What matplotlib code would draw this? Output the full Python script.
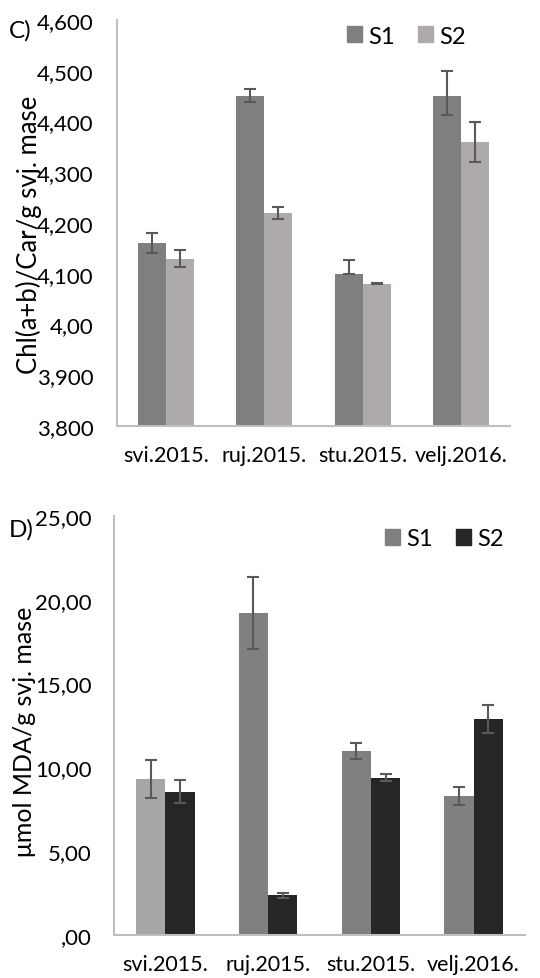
import matplotlib
matplotlib.use("Agg")
import matplotlib.pyplot as plt
import numpy as np
from matplotlib.patches import Patch

plt.rcParams['font.family'] = ['Lato', 'DejaVu Sans']

categories = ["svi.2015.", "ruj.2015.", "stu.2015.", "velj.2016."]

# Panel C
c_s1 = [4160, 4450, 4100, 4450]
c_s1_err_lo = [19, 12, 0, 38]
c_s1_err_hi = [21, 14, 27, 50]
c_s2 = [4130, 4220, 4080, 4360]
c_s2_err = [17, 12, 1, 39]
c_yticks = [3800, 3900, 4000, 4100, 4200, 4300, 4400, 4500, 4600]
c_yticklabels = ["3,800", "3,900", "4,00", "4,100", "4,200", "4,300", "4,400", "4,500", "4,600"]

# Panel D
d_s1 = [9.30, 19.20, 10.97, 8.28]
d_s1_err = [1.15, 2.13, 0.46, 0.56]
d_s2 = [8.54, 2.35, 9.37, 12.86]
d_s2_err = [0.70, 0.14, 0.21, 0.84]
d_yticks = [0, 5, 10, 15, 20, 25]
d_yticklabels = [",00", "5,00", "10,00", "15,00", "20,00", "25,00"]

W, H = 540, 979
fig = plt.figure(figsize=(W/100, H/100), dpi=100)

YFS = 16
XFS = 15.5
LFS = 17
axis_col = '#bfbfbf'
err_col = '#595959'

def style(ax, pad):
    for s in ['top', 'right']:
        ax.spines[s].set_visible(False)
    for s in ['left', 'bottom']:
        ax.spines[s].set_color(axis_col)
        ax.spines[s].set_linewidth(1.5)
    ax.tick_params(axis='both', length=0, colors='black')
    ax.tick_params(axis='y', pad=pad, labelsize=YFS)
    ax.tick_params(axis='x', pad=14, labelsize=XFS)

x = np.arange(len(categories))
bw = 0.285

# ---- Panel C ----
axC = fig.add_axes([117/W, 1-427/H, 393/W, 406/H])
c1 = '#7f7f7f'
c2 = '#aeaaaa'
axC.bar(x - bw/2, c_s1, bw, color=c1, label='S1', zorder=2)
axC.bar(x + bw/2, c_s2, bw, color=c2, label='S2', zorder=2)
ekw = dict(fmt='none', ecolor=err_col, elinewidth=1.5, capsize=4.3, capthick=1.5, zorder=3)
axC.errorbar(x - bw/2, c_s1, yerr=[c_s1_err_lo, c_s1_err_hi], **ekw)
axC.errorbar(x + bw/2, c_s2, yerr=c_s2_err, **ekw)
axC.set_xlim(-0.5, 3.5)
axC.set_ylim(3800, 4600)
axC.set_yticks(c_yticks)
axC.set_yticklabels(c_yticklabels)
axC.set_xticks(x)
axC.set_xticklabels(categories)
style(axC, 17)
axC.legend(handles=[Patch(color=c1, label='S1'), Patch(color=c2, label='S2')],
           loc='center left', bbox_to_anchor=((347-117)/393, (427-37)/406),
           ncol=2, frameon=False, fontsize=LFS, borderpad=0, borderaxespad=0,
           handlelength=0.64, handleheight=0.64, handletextpad=0.25, columnspacing=1.0)

# ---- Panel D ----
axD = fig.add_axes([114/W, 1-935.7/H, 411/W, 418.7/H])
d1 = '#808080'
d1_first = '#a6a6a6'
d2 = '#262626'
d1_colors = [d1_first, d1, d1, d1]
axD.bar(x - bw/2, d_s1, bw, color=d1_colors, zorder=2)
axD.bar(x + bw/2, d_s2, bw, color=d2, zorder=2)
axD.errorbar(x - bw/2, d_s1, yerr=d_s1_err, **ekw)
axD.errorbar(x + bw/2, d_s2, yerr=d_s2_err, **ekw)
axD.set_xlim(-0.5, 3.5)
axD.set_ylim(0, 25)
axD.set_yticks(d_yticks)
axD.set_yticklabels(d_yticklabels)
axD.set_xticks(x)
axD.set_xticklabels(categories)
style(axD, 16)
axD.legend(handles=[Patch(color=d1, label='S1'), Patch(color=d2, label='S2')],
           loc='center left', bbox_to_anchor=((385-114)/411, (935.7-540)/418.7),
           ncol=2, frameon=False, fontsize=LFS, borderpad=0, borderaxespad=0,
           handlelength=0.64, handleheight=0.64, handletextpad=0.25, columnspacing=1.0)

# Y labels
fig.text(29/W, 1-235/H, "Chl(a+b)/Car/g svj. mase", rotation=90, fontsize=18.5,
         ha='center', va='center')
fig.text(25/W, 1-732/H, "μmol MDA/g svj. mase", rotation=90, fontsize=18,
         ha='center', va='center')

# Panel letters
fig.text(9/W, 1-31/H, "C)", fontsize=17.5, ha='left', va='center')
fig.text(9/W, 1-530/H, "D)", fontsize=17.5, ha='left', va='center')

fig.savefig("out.png", dpi=100)
